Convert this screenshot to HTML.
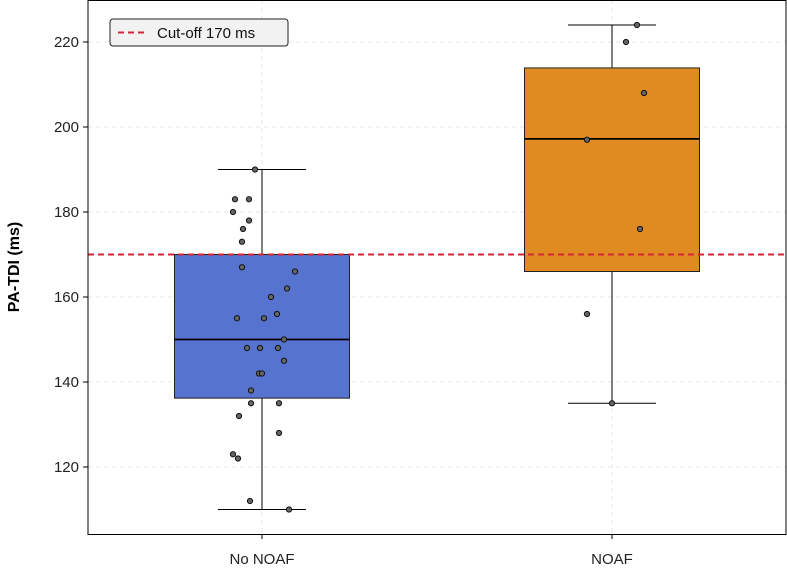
<!DOCTYPE html>
<html><head><meta charset="utf-8"><style>
body{margin:0;background:#fff;}
svg{display:block;font-family:"Liberation Sans",Arial,sans-serif;}
</style></head><body>
<svg id="chart" width="787" height="581"></svg>
<script>
const categories=["No NOAF","NOAF"];
const boxStats=[[110,136.2,150,170,190],[135,166,197.2,213.9,224]];
const pointsNo=[190,183,183,180,178,176,173,167,166,162,160,155,155,156,150,148,148,148,145,142,142,138,135,135,132,128,123,122,112,110];
const jitterNo=[-7,-27,-13,-29,-13,-19,-20,-20,33,25,9,-25,2,15,22,-15,-2,16,22,-3,0,-11,-11,17,-23,17,-29,-24,-12,27];
const pointsYes=[224,220,208,197,176,156,135];
const jitterYes=[25,14,32,-25,28,-25,0];
const yTicks=[120,140,160,180,200,220];
const cutoff=170;
const colors=["#5573cf","#e08a22"];
const NS="http://www.w3.org/2000/svg";
const svg=document.getElementById('chart');
const L=88,R=786,T=0,B=534;
const y=v=>42+(220-v)*4.25;
const xc=i=>262+i*350;
function mk(t,a,p){const e=document.createElementNS(NS,t);for(const k in a)e.setAttribute(k,a[k]);(p||svg).appendChild(e);return e;}
// grid
yTicks.forEach(v=>{const g=mk('line',{x1:L,x2:R,y1:y(v),y2:y(v),stroke:'#e4e4e4','stroke-dasharray':'4,4'});

});
categories.forEach((c,i)=>{const g=mk('line',{x1:xc(i),x2:xc(i),y1:T,y2:B,stroke:'#e4e4e4','stroke-dasharray':'4,4'});

});
// boxes
categories.forEach((c,i)=>{const s=boxStats[i],cx=xc(i),hw=87.5;
const g=mk('g',{});


mk('line',{x1:cx,x2:cx,y1:y(s[4]),y2:y(s[3]),stroke:'#000'},g);
mk('line',{x1:cx,x2:cx,y1:y(s[1]),y2:y(s[0]),stroke:'#000'},g);
mk('line',{x1:cx-44,x2:cx+44,y1:y(s[4]),y2:y(s[4]),stroke:'#000'},g);
mk('line',{x1:cx-44,x2:cx+44,y1:y(s[0]),y2:y(s[0]),stroke:'#000'},g);
mk('rect',{x:cx-hw,y:y(s[3]),width:hw*2,height:y(s[1])-y(s[3]),fill:colors[i],stroke:'#222'},g);
mk('line',{x1:cx-hw,x2:cx+hw,y1:y(s[2]),y2:y(s[2]),stroke:'#000','stroke-width':1.8},g);
});
// cutoff
const cl=mk('line',{x1:L,x2:R,y1:y(cutoff),y2:y(cutoff),stroke:'#d6243a','stroke-width':2,'stroke-dasharray':'6,4'});


// points
[[pointsNo,jitterNo],[pointsYes,jitterYes]].forEach(([pts,jit],i)=>{pts.forEach((v,k)=>{
const p=mk('circle',{cx:xc(i)+jit[k],cy:y(v),r:2.6,fill:'#666',stroke:'#111','stroke-width':1});

});});
// frame
const f=mk('rect',{x:L,y:T+0.5,width:R-L,height:B-T,fill:'none',stroke:'#000'});


// y ticks
yTicks.forEach(v=>{mk('line',{x1:L-5,x2:L,y1:y(v),y2:y(v),stroke:'#000'});
const t=mk('text',{x:L-9,y:y(v)+5,'text-anchor':'end','font-size':15,fill:'#222'});t.textContent=v;

});
categories.forEach((c,i)=>{mk('line',{x1:xc(i),x2:xc(i),y1:B,y2:B+5,stroke:'#000'});
const t=mk('text',{x:xc(i),y:B+30,'text-anchor':'middle','font-size':15,fill:'#222'});t.textContent=c;

});
const yl=mk('text',{x:0,y:0,transform:'translate(19,267) rotate(-90)','text-anchor':'middle','font-size':16,'font-weight':'bold'});yl.textContent='PA-TDI (ms)';


// legend
const lg=mk('g',{});


mk('rect',{x:110,y:19,width:178,height:27,rx:3,fill:'#f2f2f2',stroke:'#222'},lg);
mk('line',{x1:118,x2:148,y1:32.5,y2:32.5,stroke:'#d6243a','stroke-width':2,'stroke-dasharray':'6,4'},lg);
const lt=mk('text',{x:157,y:38,'font-size':15,fill:'#111'},lg);lt.textContent='Cut-off 170 ms';
</script>
</body></html>
